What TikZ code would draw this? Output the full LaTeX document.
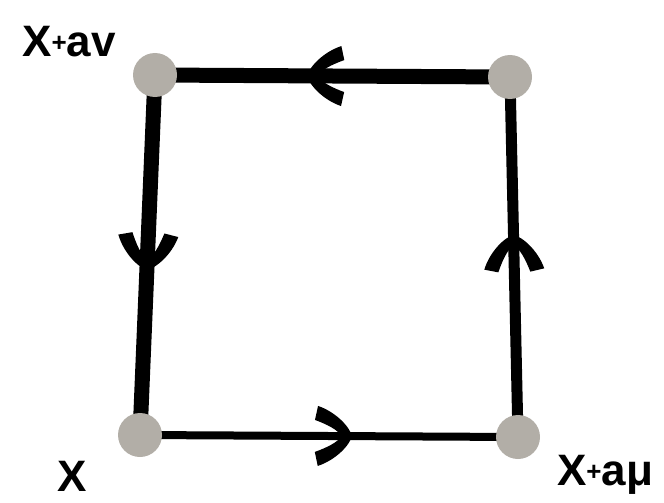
\documentclass[tikz,border=0pt]{standalone}
\usepackage{fontspec}
\setmainfont{Liberation Sans}
\usetikzlibrary{decorations.markings}
\definecolor{dotgray}{RGB}{178,174,167}
\tikzset{
  vertex/.style={circle, fill=dotgray, minimum size=44pt, inner sep=0pt},
  lbl/.style={font=\fontsize{44}{50}\selectfont\bfseries, inner sep=0pt},
  barb/.style={postaction={decorate, decoration={markings,
      mark=at position #1 with {
        \fill[black] (4,0) .. controls (2,9) and (-12,24) .. (-30,30)
          -- (-33,16) .. controls (-22,12) and (-9,6) .. (-7,0)
          .. controls (-9,-6) and (-22,-12) .. (-33,-16)
          -- (-30,-30) .. controls (-12,-24) and (2,-9) .. cycle;
      }}}},
  edge/.style={draw=black, line cap=round}
}
\newcommand{\smallplus}{\raisebox{0.12em}{\fontsize{26}{26}\selectfont +}}
\begin{document}
\begin{tikzpicture}[x=1pt, y=-1pt]
  \path[use as bounding box] (0,0) rectangle (664,503);
  % corner positions
  \coordinate (ptl) at (155,75);
  \coordinate (ptr) at (510,77);
  \coordinate (pbr) at (518,437);
  \coordinate (pbl) at (140,435);
  % sides, with the direction marks
  \path[edge, line width=15pt, barb=0.56] (ptr) -- (ptl);
  \path[edge, line width=15pt, barb=0.53] (ptl) -- (pbl);
  \path[edge, line width=8pt, barb=0.55] (pbl) -- (pbr);
  \path[edge, line width=11pt, barb=0.55] (pbr) -- (ptr);
  % corner dots
  \node[vertex] (tl) at (ptl) {};
  \node[vertex] (tr) at (ptr) {};
  \node[vertex] (br) at (pbr) {};
  \node[vertex] (bl) at (pbl) {};
  % labels
  \node[lbl] (ltl) at (69,42) {X\smallplus av};
  \node[lbl] (lbl) at (72,476) {X};
  \node[lbl] (lbr) at (605,475) {X\smallplus aμ};
\end{tikzpicture}
\end{document}
